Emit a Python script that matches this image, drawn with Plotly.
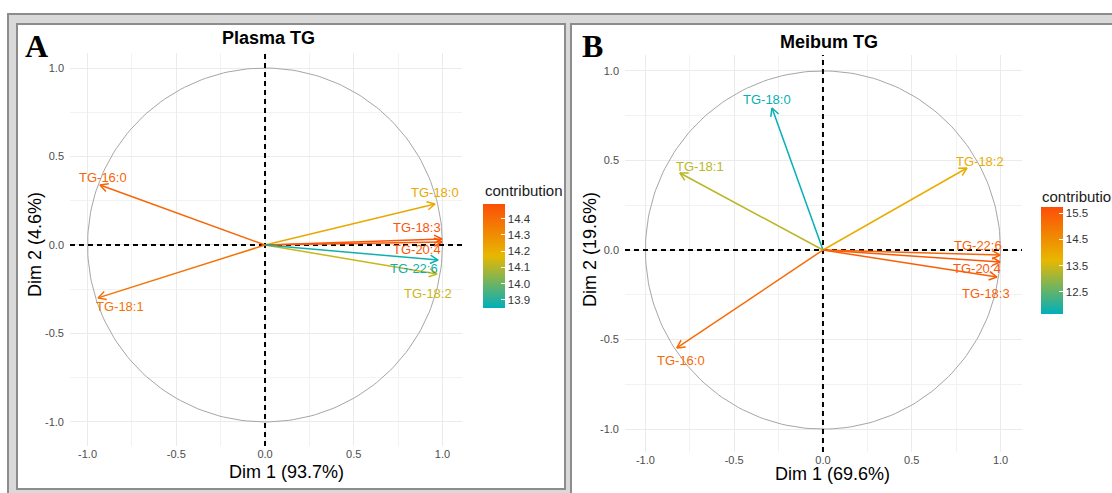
import math
import plotly.graph_objects as go
from plotly.colors import sample_colorscale

W, H = 1112, 493

# ---- data -------------------------------------------------------------
variables = ["TG-16:0", "TG-18:0", "TG-18:1", "TG-18:2", "TG-18:3", "TG-20:4", "TG-22:6"]

plasma_dim1 = [-0.930, 0.958, -0.941, 0.969, 0.997, 0.997, 0.975]
plasma_dim2 = [0.339, 0.232, -0.299, -0.164, 0.034, 0.017, -0.085]
plasma_contrib = [14.42, 14.22, 14.38, 14.13, 14.47, 14.46, 13.87]

meibum_dim1 = [-0.823, -0.287, -0.806, 0.811, 0.980, 0.997, 0.997]
meibum_dim2 = [-0.547, 0.793, 0.430, 0.458, -0.151, -0.067, -0.028]
meibum_contrib = [15.2, 11.7, 13.3, 13.9, 15.4, 15.5, 15.3]

axis_ticks = [-1.0, -0.5, 0.0, 0.5, 1.0]
plasma_cbar_ticks = [13.9, 14.0, 14.1, 14.2, 14.3, 14.4]
meibum_cbar_ticks = [12.5, 13.5, 14.5, 15.5]

# ---- styling ------------------------------------------------------------
COLORSCALE = [[0.0, "#00AFBB"], [0.5, "#E7B800"], [1.0, "#FC4E07"]]
SANS = "Liberation Sans, Arial, sans-serif"

# label nudges in screen pixels (dx right, dy down), repel-style placement
plasma_label_shift = {
    "TG-16:0": (3, -8), "TG-18:0": (0, -11), "TG-18:1": (22, 9), "TG-18:2": (-9, 19),
    "TG-18:3": (-25, -11), "TG-20:4": (-25, 8), "TG-22:6": (-24, 8),
}
meibum_label_shift = {
    "TG-16:0": (4, 13), "TG-18:0": (-5, -9), "TG-18:1": (20, -7), "TG-18:2": (13, -6),
    "TG-18:3": (-11, 16), "TG-20:4": (-23, 6), "TG-22:6": (-22, -10),
}

panels = [
    dict(xa="x", ya="y", dim1=plasma_dim1, dim2=plasma_dim2, contrib=plasma_contrib,
         shift=plasma_label_shift, cmin=13.85, cmax=14.49, cticks=plasma_cbar_ticks,
         px=(70, 462), py=(53, 446), xr=[-1.099, 1.110], yr=[-1.136, 1.085],
         title="Plasma TG", title_xy=(268, 38), letter="A", letter_xy=(36, 46),
         xlab="Dim 1 (93.7%)", xlab_xy=(286, 472), ylab="Dim 2 (4.6%)", ylab_xy=(35, 245),
         cbar_x=483, cbar_top=204, cbar_bot=308, ctitle_xy=(483, 191)),
    dict(xa="x2", ya="y2", dim1=meibum_dim1, dim2=meibum_dim2, contrib=meibum_contrib,
         shift=meibum_label_shift, cmin=11.66, cmax=15.73, cticks=meibum_cbar_ticks,
         px=(625, 1022), py=(55, 452), xr=[-1.115, 1.121], yr=[-1.128, 1.089],
         title="Meibum TG", title_xy=(829, 42), letter="B", letter_xy=(592, 46),
         xlab="Dim 1 (69.6%)", xlab_xy=(832, 474), ylab="Dim 2 (19.6%)", ylab_xy=(590, 250),
         cbar_x=1041, cbar_top=207, cbar_bot=314, ctitle_xy=(1040, 196)),
]


def fx(px):
    return px / W


def fy(py):
    return 1 - py / H


def paper_text(xy, text, font, **kw):
    d = dict(x=fx(xy[0]), y=fy(xy[1]), xref="paper", yref="paper", text=text,
             showarrow=False, xanchor="center", yanchor="middle", font=font)
    d.update(kw)
    return d


fig = go.Figure()
shapes = []
annotations = []

# panel frames
shapes.append(dict(type="rect", xref="paper", yref="paper", layer="below",
                   x0=fx(8), x1=fx(1120), y0=fy(14), y1=fy(500),
                   fillcolor="#d9d9d9", line=dict(color="#8c8c8c", width=2)))
shapes.append(dict(type="rect", xref="paper", yref="paper", layer="below",
                   x0=fx(17), x1=fx(565), y0=fy(24), y1=fy(489),
                   fillcolor="white", line=dict(color="#8c8c8c", width=2)))
shapes.append(dict(type="rect", xref="paper", yref="paper", layer="below",
                   x0=fx(571), x1=fx(1125), y0=fy(24), y1=fy(500),
                   fillcolor="white", line=dict(color="#8c8c8c", width=2)))

HEAD_LEN = 0.05
HEAD_ANG = math.radians(28)

for i, p in enumerate(panels):
    axis_suffix = "" if i == 0 else str(i + 1)
    colors = [sample_colorscale(COLORSCALE, [(c - p["cmin"]) / (p["cmax"] - p["cmin"])])[0]
              for c in p["contrib"]]

    # correlation circle and dashed zero lines (drawn as traces so they sit under the arrows)
    t = [k * 2 * math.pi / 240 for k in range(241)]
    fig.add_trace(go.Scatter(x=[math.cos(a) for a in t], y=[math.sin(a) for a in t],
                             mode="lines", line=dict(color="#a6a6a6", width=1),
                             xaxis=p["xa"], yaxis=p["ya"], showlegend=False, hoverinfo="skip"))
    fig.add_trace(go.Scatter(x=[0, 0], y=p["yr"], mode="lines",
                             line=dict(color="black", width=2, dash="5px,4px"),
                             xaxis=p["xa"], yaxis=p["ya"], showlegend=False, hoverinfo="skip"))
    fig.add_trace(go.Scatter(x=p["xr"], y=[0, 0], mode="lines",
                             line=dict(color="black", width=2, dash="5px,4px"),
                             xaxis=p["xa"], yaxis=p["ya"], showlegend=False, hoverinfo="skip"))

    # arrows
    for name, x, y, col in zip(variables, p["dim1"], p["dim2"], colors):
        th = math.atan2(y, x)
        w1 = (x - HEAD_LEN * math.cos(th + HEAD_ANG), y - HEAD_LEN * math.sin(th + HEAD_ANG))
        w2 = (x - HEAD_LEN * math.cos(th - HEAD_ANG), y - HEAD_LEN * math.sin(th - HEAD_ANG))
        fig.add_trace(go.Scatter(
            x=[0, x, None, w1[0], x, w2[0]], y=[0, y, None, w1[1], y, w2[1]],
            mode="lines", line=dict(color=col, width=1.5), xaxis=p["xa"], yaxis=p["ya"],
            showlegend=False, hoverinfo="skip"))
        dx, dy = p["shift"][name]
        annotations.append(dict(x=x, y=y, xref=p["xa"], yref=p["ya"], text=name,
                                showarrow=False, xshift=dx, yshift=-dy,
                                xanchor="center", yanchor="middle",
                                font=dict(family=SANS, size=13, color=col)))

    # colour bar carrier
    cb_len = p["cbar_bot"] - p["cbar_top"]
    fig.add_trace(go.Scatter(
        x=p["dim1"], y=p["dim2"], mode="markers", xaxis=p["xa"], yaxis=p["ya"],
        showlegend=False, hoverinfo="skip",
        marker=dict(size=0.1, opacity=1, color=p["contrib"], colorscale=COLORSCALE,
                    cmin=p["cmin"], cmax=p["cmax"], showscale=True,
                    colorbar=dict(x=fx(p["cbar_x"]), xanchor="left", xpad=0, ypad=0,
                                  y=fy((p["cbar_top"] + p["cbar_bot"]) / 2), yanchor="middle",
                                  len=cb_len, lenmode="pixels", thickness=22,
                                  thicknessmode="pixels", outlinewidth=0,
                                  tickvals=p["cticks"], ticktext=[f"{t:.1f}" for t in p["cticks"]],
                                  ticks="inside", ticklen=4, tickcolor="white",
                                  tickfont=dict(family=SANS, size=11.5, color="#333333")))))

    # axes
    common = dict(tickvals=axis_ticks, ticktext=[f"{t:.1f}" for t in axis_ticks],
                  showgrid=True, gridcolor="#ebebeb", gridwidth=1, zeroline=False,
                  showline=False, ticks="",
                  tickfont=dict(family=SANS, size=11, color="#4d4d4d"),
                  minor=dict(dtick=0.25, tick0=0, showgrid=True, gridcolor="#f2f2f2", gridwidth=0.8))
    xaxis = dict(common, range=p["xr"], domain=[fx(p["px"][0]), fx(p["px"][1])],
                 anchor=p["ya"])
    yaxis = dict(common, range=p["yr"], domain=[fy(p["py"][1]), fy(p["py"][0])],
                 anchor=p["xa"], ticklabelstandoff=5)
    fig.update_layout({"xaxis" + axis_suffix: xaxis, "yaxis" + axis_suffix: yaxis})

    # titles and labels
    annotations.append(paper_text(p["title_xy"], f"<b>{p['title']}</b>",
                                  dict(family=SANS, size=18, color="black")))
    annotations.append(paper_text(p["letter_xy"], f"<b>{p['letter']}</b>",
                                  dict(family="Liberation Serif, Times New Roman, serif",
                                       size=32, color="black")))
    annotations.append(paper_text(p["xlab_xy"], p["xlab"], dict(family=SANS, size=18, color="black")))
    annotations.append(paper_text(p["ylab_xy"], p["ylab"], dict(family=SANS, size=18, color="black"),
                                  textangle=-90))
    annotations.append(paper_text(p["ctitle_xy"], "contribution",
                                  dict(family=SANS, size=15, color="#1a1a1a"), xanchor="left"))

fig.update_layout(width=W, height=H, margin=dict(l=0, r=0, t=0, b=0),
                  paper_bgcolor="white", plot_bgcolor="rgba(0,0,0,0)",
                  shapes=shapes, annotations=annotations, showlegend=False)

fig.write_html("out.html")
